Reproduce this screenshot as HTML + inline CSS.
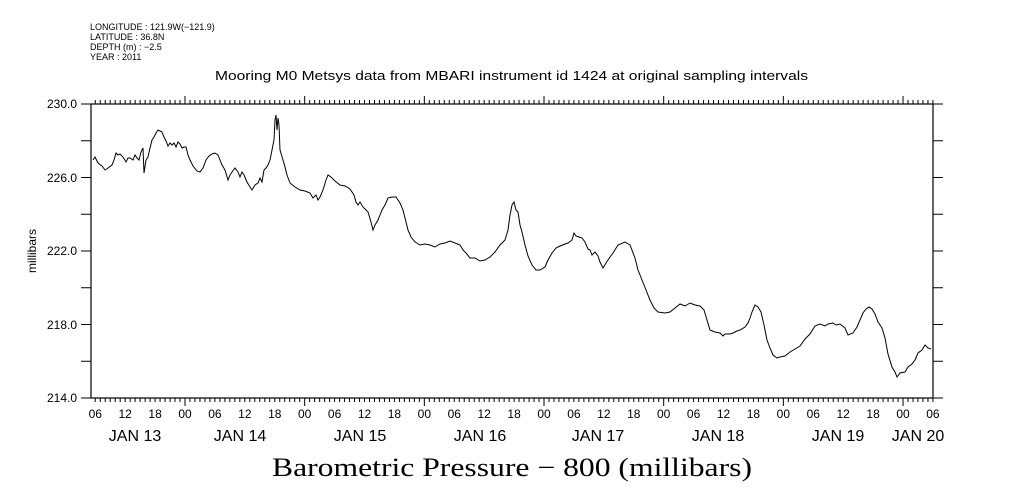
<!DOCTYPE html>
<html><head><style>body{margin:0;background:#fff}svg{display:block}</style></head><body>
<svg width="1009" height="504" xmlns="http://www.w3.org/2000/svg" font-family="Liberation Sans, sans-serif">
<g font-size="9" fill="#000">
<text x="90" y="30">LONGITUDE : 121.9W(−121.9)</text>
<text x="90" y="40">LATITUDE : 36.8N</text>
<text x="90" y="50">DEPTH (m) : −2.5</text>
<text x="90" y="60">YEAR : 2011</text>
</g>
<text x="215" y="80" font-size="13" textLength="593" lengthAdjust="spacingAndGlyphs">Mooring M0 Metsys data from MBARI instrument id 1424 at original sampling intervals</text>
<rect x="91" y="104" width="842" height="294" fill="none" stroke="#000" stroke-width="1.2"/>
<g id="ticks" stroke="#000" stroke-width="1"></g>
<g font-size="12" text-anchor="end">
<text x="77" y="108">230.0</text><text x="77" y="182">226.0</text><text x="77" y="255">222.0</text><text x="77" y="329">218.0</text><text x="77" y="402">214.0</text>
</g>
<text transform="translate(36,251) rotate(-90)" font-size="12" text-anchor="middle">millibars</text>
<g id="hl" font-size="12" text-anchor="middle"></g>
<g font-size="16" text-anchor="middle">
<text x="135" y="441">JAN 13</text><text x="240" y="441">JAN 14</text><text x="360" y="441">JAN 15</text><text x="480" y="441">JAN 16</text><text x="598" y="441">JAN 17</text><text x="718" y="441">JAN 18</text><text x="838" y="441">JAN 19</text><text x="918" y="441">JAN 20</text>
</g>
<text x="272" y="476" font-family="Liberation Serif, serif" font-size="26" textLength="480" lengthAdjust="spacingAndGlyphs">Barometric Pressure − 800 (millibars)</text>
<polyline fill="none" stroke="#000" stroke-width="1" points="93,160 95,157 98,163 102,166 105,170 108,168 112,165 114,160 116,153 118,155 120,154 123,157 126,162 128,158 130,158 133,160 135,155 137,158 139,160 141,152 143,148 144,173 146,160 148,157 150,148 152,140 154,137 156,133 158,130 160,131 162,132 164,137 166,141 168,146 170,143 172,145 174,143 176,147 178,142 180,144 182,148 184,147 186,147 188,155 190,160 193,166 197,171 200,172 203,168 206,160 209,156 212,154 215,153 218,155 220,160 222,165 225,170 228,180 230,175 232,172 235,168 238,172 240,177 242,172 244,175 247,182 250,187 252,190 255,185 258,183 260,178 262,182 264,170 266,168 268,165 270,160 272,150 274,140 275,120 276,115 277,130 278,118 279,125 280,150 283,160 285,167 287,175 290,183 295,187 300,190 305,191 310,193 313,198 316,195 318,200 320,197 323,190 326,180 328,175 331,177 335,181 340,185 345,186 350,189 354,195 356,202 358,205 360,202 363,207 366,210 368,212 371,222 373,230 375,225 378,220 380,215 382,210 385,205 388,198 392,197 396,197 400,203 403,210 405,218 408,230 411,237 415,242 420,245 425,244 430,245 435,247 440,244 445,243 450,241 455,243 460,245 463,250 466,253 470,258 475,258 480,261 485,260 490,257 495,252 500,245 505,240 508,230 510,215 512,205 514,202 516,210 518,212 520,225 522,232 525,245 528,256 532,265 536,270 540,270 545,267 548,260 552,253 556,248 560,246 565,244 568,243 572,240 574,233 576,236 579,237 582,238 585,242 588,249 590,250 592,255 595,252 598,256 600,262 603,268 606,263 610,257 613,253 618,245 625,242 630,245 635,258 638,270 642,280 646,290 650,300 654,308 658,312 665,313 670,312 675,308 680,304 685,306 690,303 695,305 700,306 704,310 707,320 710,330 715,332 720,333 723,336 725,334 730,334 733,333 737,331 740,330 745,327 748,323 750,318 752,312 755,305 758,307 761,312 764,325 767,340 770,348 773,355 777,358 780,357 785,356 790,352 795,349 800,346 805,339 810,334 815,326 820,324 825,326 828,324 833,323 836,325 840,324 845,328 848,335 853,333 857,327 860,320 863,313 866,309 869,307 872,309 875,314 878,322 882,328 885,338 888,354 892,367 895,372 897,377 900,373 905,372 908,367 912,364 915,360 918,353 922,350 925,345 928,348 931,349"/>
<script>
(function(){
var g=document.getElementById('ticks'),hl=document.getElementById('hl'),ns='http://www.w3.org/2000/svg';
function L(a,b,c,d){var l=document.createElementNS(ns,'line');l.setAttribute('x1',a);l.setAttribute('y1',b);l.setAttribute('x2',c);l.setAttribute('y2',d);g.appendChild(l);}
var d=119.67/24,x0=185-19*d;
for(var h=0;h<=169;h++){var x=x0+h*d;if(x<91.5||x>933.5)continue;var hr=(h+5)%24;var len=hr==0?8:4;
L(x,104,x,104-len);L(x,398,x,398+len);
if(hr%6==0){var t=document.createElementNS(ns,'text');t.setAttribute('x',x);t.setAttribute('y',418);t.textContent=(hr<10?'0':'')+hr;hl.appendChild(t);}}
for(var i=0;i<=8;i++){var y=104+i*36.75;L(81,y,91,y);L(933,y,943,y);}
})();
</script>
</svg>
</body></html>
